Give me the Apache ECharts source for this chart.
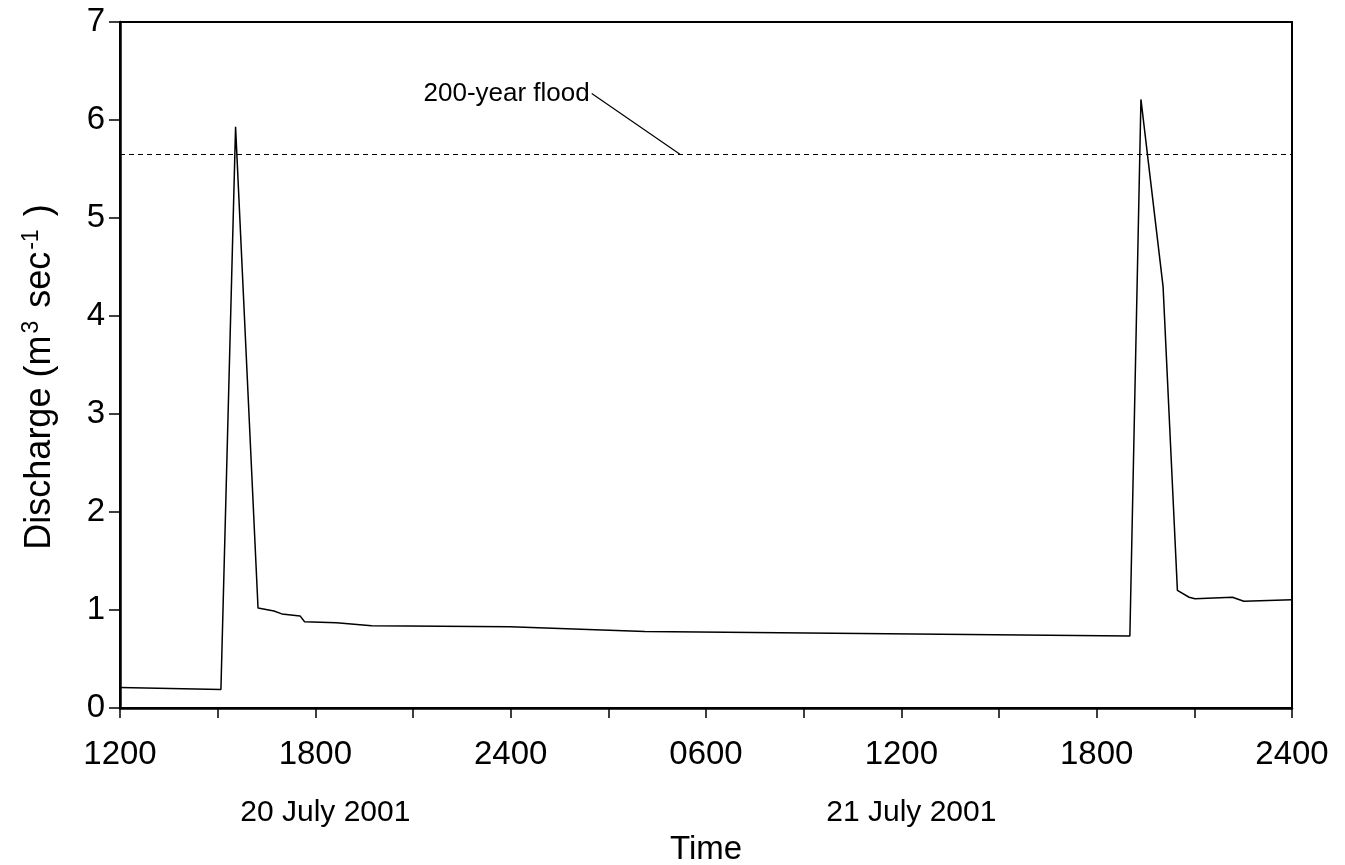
<!DOCTYPE html>
<html>
<head>
<meta charset="utf-8">
<script src="https://cdn.jsdelivr.net/npm/echarts@6/dist/echarts.min.js"></script>
<style>
  html, body { margin: 0; padding: 0; background: #fff; }
  #chart { width: 1345px; height: 865px; }
</style>
</head>
<body>
<div id="chart"></div>
<script>
// Hours elapsed since 1200 on 20 July 2001
const hours = [0, 3.1, 3.55, 4.24, 4.73, 4.97, 5.53, 5.67, 6.65, 7.73, 11.98, 16.12,
               31.02, 31.36, 32.04, 32.48, 32.84, 33.02, 34.17, 34.52, 36];
// Stream discharge (m3/s)
const discharge = [0.21, 0.19, 5.93, 1.02, 0.99, 0.96, 0.94, 0.88, 0.87, 0.84, 0.83, 0.78,
                   0.735, 6.21, 4.30, 1.20, 1.13, 1.115, 1.13, 1.09, 1.105];

// 200-year flood discharge level
const floodLevel = 5.65;
const floodLabel = '200-year flood';
// Leader line from the annotation text down to the flood line
const leaderHours = [14.49, 17.2];
const leaderValues = [6.27, floodLevel];

// Tick labels every 3 hours (blank between the 6-hourly ones)
const timeTicks = ['1200', '', '1800', '', '2400', '', '0600', '', '1200', '', '1800', '', '2400'];
// Date captions shown beneath selected ticks
const dateCaptions = { 6: '20 July 2001', 24: '21 July 2001' };

const FONT = '"Liberation Sans", Arial, Helvetica, sans-serif';

const chart = echarts.init(document.getElementById('chart'), null, { renderer: 'canvas' });

const option = {
  animation: false,
  backgroundColor: '#fff',
  grid: {
    left: 120, right: 53, top: 22, bottom: 157,
    show: true, borderColor: '#000', borderWidth: 2,
    containLabel: false, outerBoundsMode: 'none'
  },
  xAxis: {
    type: 'value',
    min: 0, max: 36, interval: 3,
    name: 'Time',
    nameLocation: 'middle',
    nameGap: 125,
    nameTextStyle: { fontFamily: FONT, fontSize: 33, color: '#000' },
    axisLine: { show: true, onZero: false, lineStyle: { color: '#000', width: 2.5 } },
    axisTick: { show: true, inside: false, length: 10, lineStyle: { color: '#000', width: 1.5 } },
    splitLine: { show: false },
    axisLabel: {
      margin: 29,
      color: '#000',
      fontFamily: FONT,
      fontSize: 33,
      showMinLabel: true, showMaxLabel: true,
      formatter: function (v) {
        const i = Math.round(v / 3);
        const t = timeTicks[i] || '';
        if (!t) return '';
        const d = dateCaptions[Math.round(v)];
        return d ? '{t|' + t + '}\n{d|' + d + '}' : '{t|' + t + '}';
      },
      rich: {
        t: { fontFamily: FONT, fontSize: 33, lineHeight: 36, color: '#000' },
        d: { fontFamily: FONT, fontSize: 30, lineHeight: 80, color: '#000', padding: [0, 0, 0, 20] }
      }
    }
  },
  yAxis: {
    type: 'value',
    min: 0, max: 7, interval: 1,
    name: 'Discharge (m{sup|3} sec{sup|-1}{gap| })',
    nameLocation: 'middle',
    nameGap: 60,
    nameTextStyle: {
      fontFamily: FONT, fontSize: 36, color: '#000', lineHeight: 40,
      padding: [0, 24, 0, 0],
      rich: {
        sup: { fontFamily: FONT, fontSize: 23, color: '#000', verticalAlign: 'top', lineHeight: 40, padding: [0, 3, 0, 2] },
        gap: { fontFamily: FONT, fontSize: 36, lineHeight: 40, color: '#000' }
      }
    },
    axisLine: { show: true, onZero: false, lineStyle: { color: '#000', width: 2.5 } },
    axisTick: { show: true, inside: false, length: 11, lineStyle: { color: '#000', width: 1.5 } },
    splitLine: { show: false },
    axisLabel: { margin: 15, color: '#000', fontFamily: FONT, fontSize: 33 }
  },
  series: [
    {
      name: 'Discharge',
      type: 'line',
      data: hours.map((h, i) => [h, discharge[i]]),
      symbol: 'none',
      lineStyle: { color: '#000', width: 1.5 },
      z: 3,
      markLine: {
        silent: true,
        symbol: 'none',
        label: { show: false },
        lineStyle: { color: '#000', width: 1.2, type: [5, 4] },
        data: [{ yAxis: floodLevel }]
      }
    },
    {
      name: 'leader',
      type: 'line',
      showSymbol: true,
      symbol: 'circle',
      symbolSize: 0,
      lineStyle: { color: '#000', width: 1.2 },
      data: leaderHours.map((h, i) => {
        const item = { value: [h, leaderValues[i]] };
        if (i === 0) {
          item.label = {
            show: true,
            formatter: floodLabel,
            position: 'left',
            distance: 2,
            fontFamily: FONT,
            fontSize: 26,
            color: '#000'
          };
        }
        return item;
      }),
      z: 2
    }
  ]
};

chart.setOption(option);
</script>
</body>
</html>
